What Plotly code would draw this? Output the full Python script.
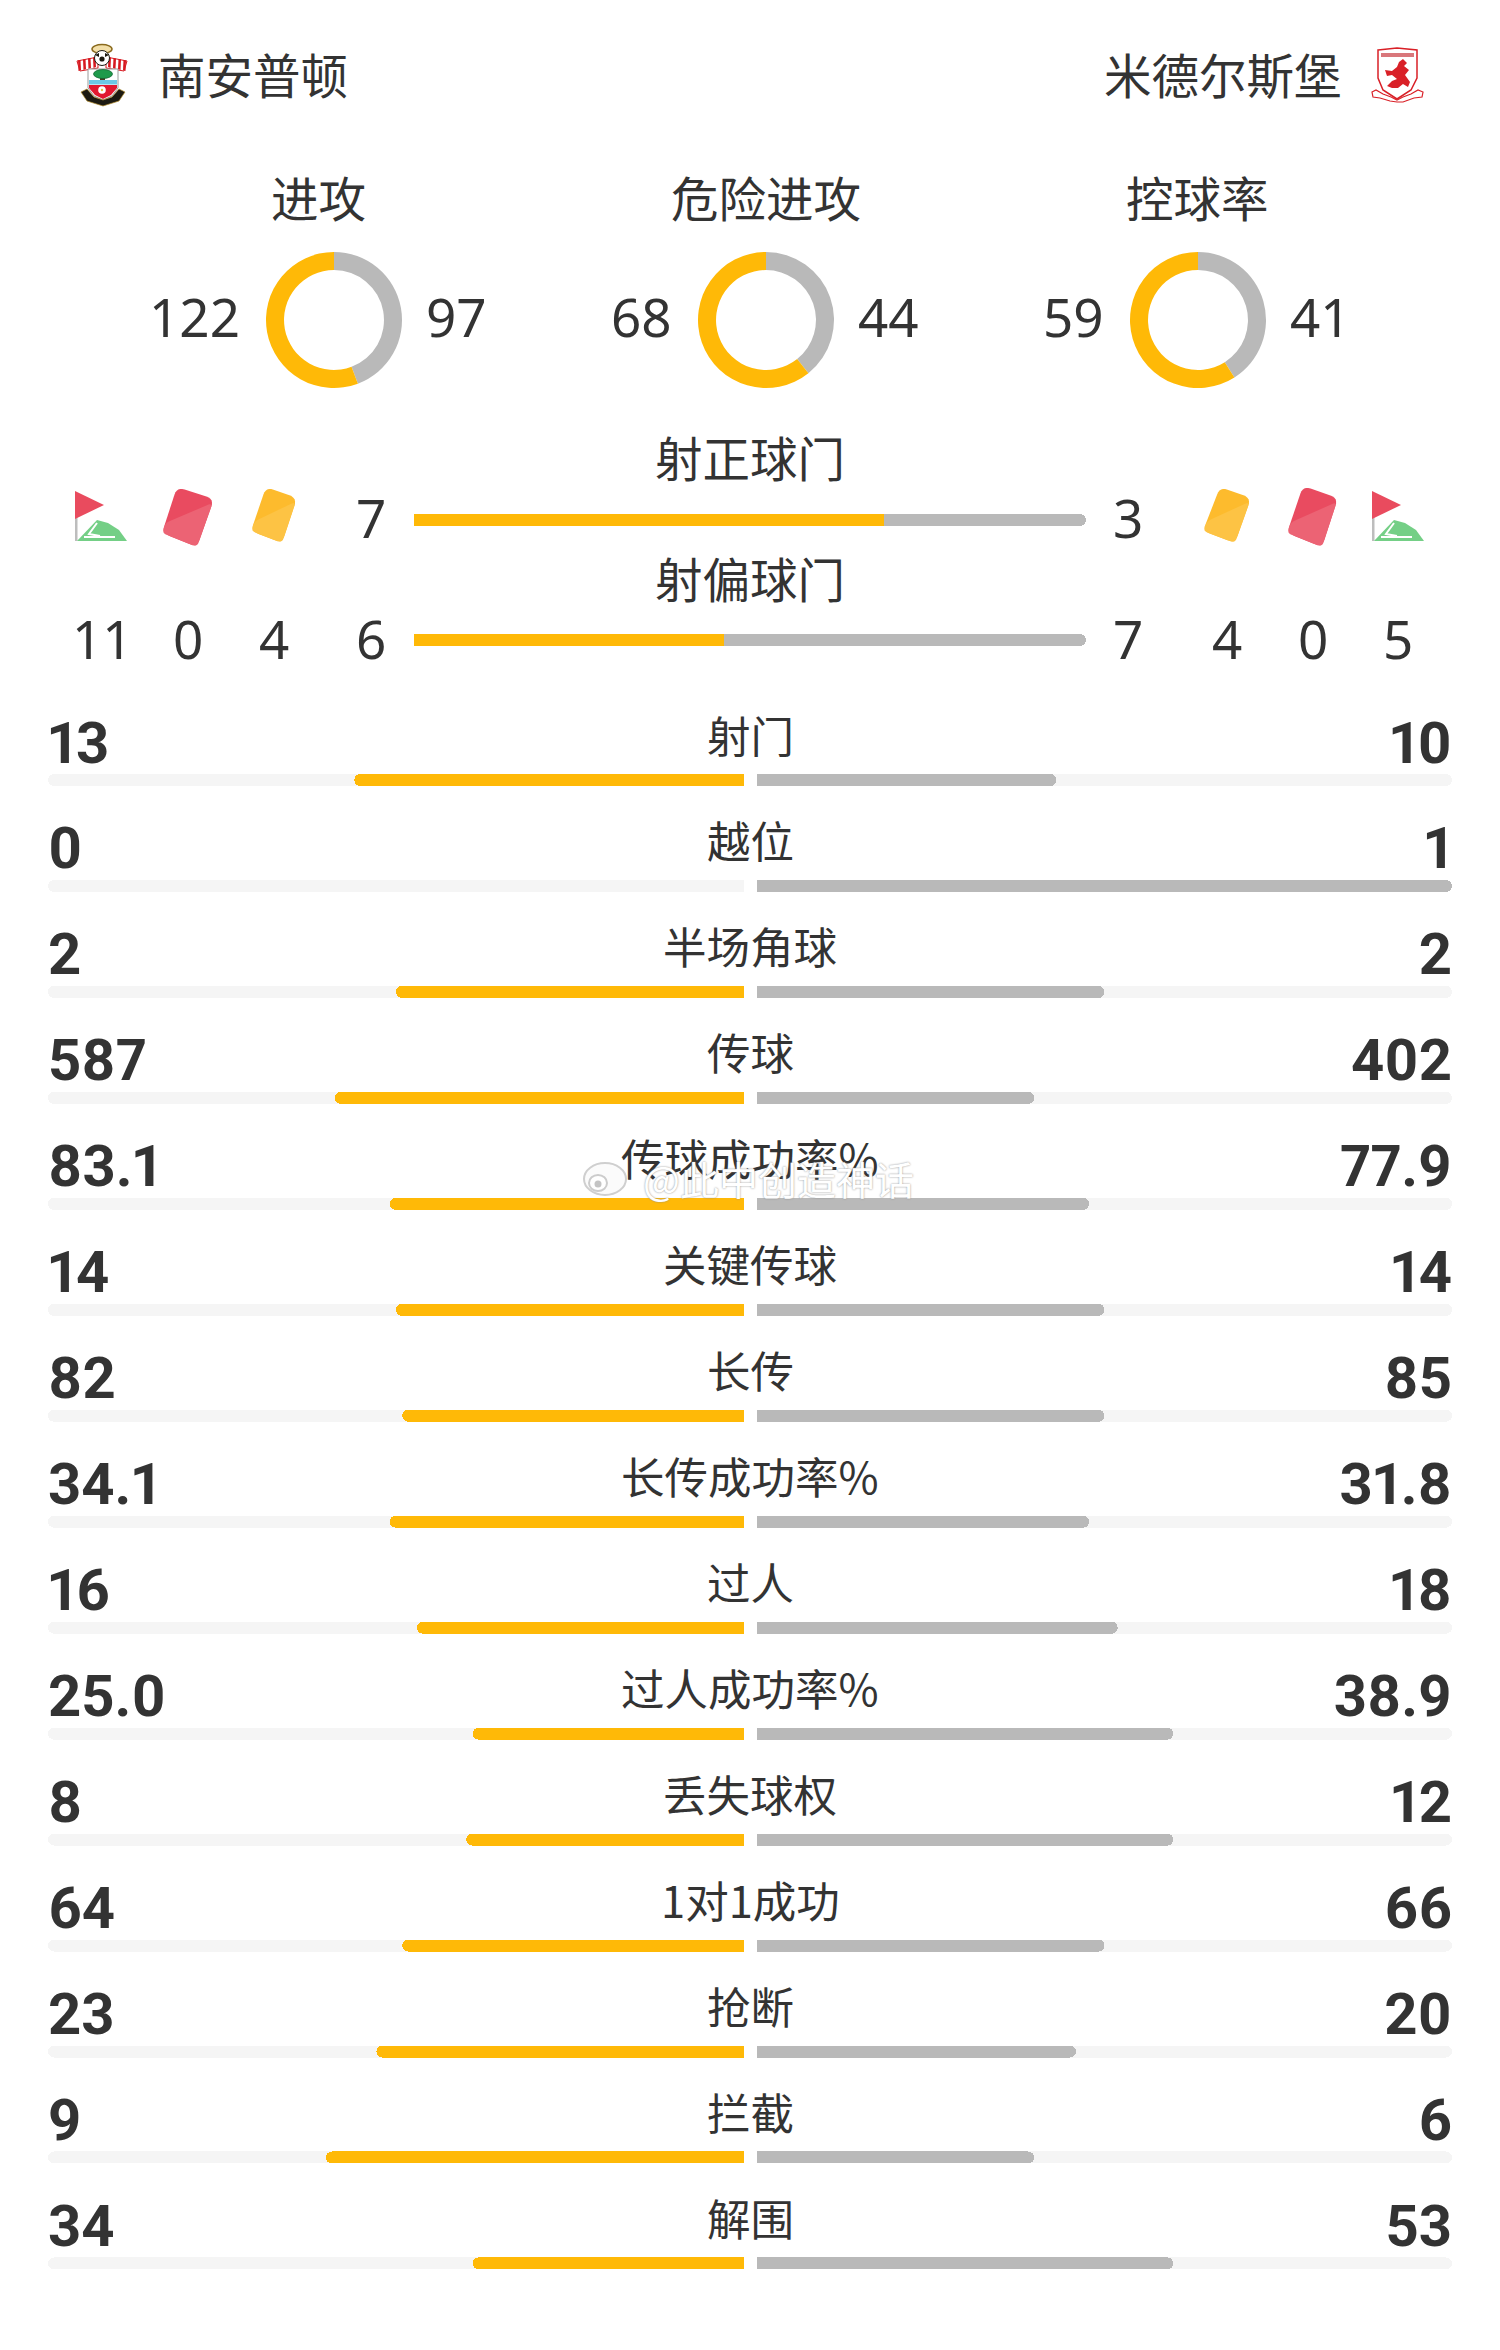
import math
import plotly.graph_objects as go

W, H = 1500, 2350
GOLD, GRAY, TRACK, INK = "#FFB907", "#B9B9B9", "#F5F5F5", "#333333"
CJK = "Noto Sans CJK SC"

home_team = "南安普顿"
away_team = "米德尔斯堡"
donut_names = ["进攻", "危险进攻", "控球率"]
donut_home = [122, 68, 59]
donut_away = [97, 44, 41]
shot_names = ["射正球门", "射偏球门"]
shot_home = [7, 6]
shot_away = [3, 7]
home_corners, home_reds, home_yellows = "11", "0", "4"
away_corners, away_reds, away_yellows = "5", "0", "4"
stat_names = ["射门", "越位", "半场角球", "传球", "传球成功率%", "关键传球", "长传", "长传成功率%",
              "过人", "过人成功率%", "丢失球权", "1对1成功", "抢断", "拦截", "解围"]
stat_home = ["13", "0", "2", "587", "83.1", "14", "82", "34.1", "16", "25.0", "8", "64", "23", "9", "34"]
stat_away = ["10", "1", "2", "402", "77.9", "14", "85", "31.8", "18", "38.9", "12", "66", "20", "6", "53"]
# bar lengths as drawn in the picture (share of each half)
home_share = [.56, 0, .5, .588, .509, .5, .491, .509, .47, .39, .399, .491, .528, .601, .39]
away_share = [.431, 1, .5, .399, .478, .5, .5, .478, .519, .599, .599, .5, .459, .399, .599]
watermark = "@此中创造神话"

shot_h_frac = [a / (a + b) for a, b in zip(shot_home, shot_away)]
shot_a_frac = [b / (a + b) for a, b in zip(shot_home, shot_away)]

px = lambda x: x / W
py = lambda y: 1 - y / H

fig = go.Figure()

# donuts: grey runs clockwise from the top, gold closes the ring
donut_cx = [334, 766, 1198]
R = 68
for i, cx in enumerate(donut_cx):
    fig.add_trace(go.Pie(values=[donut_away[i], donut_home[i]], sort=False, direction="clockwise",
                         rotation=0, hole=0.735, textinfo="none", hoverinfo="skip", showlegend=False,
                         marker=dict(colors=[GRAY, GOLD], line=dict(width=0)),
                         domain=dict(x=[px(cx - R), px(cx + R)], y=[py(320 + R), py(320 - R)])))

bar_common = dict(orientation="h", hoverinfo="skip", showlegend=False, marker_line_width=0)
# shot bars (stacked)
fig.add_trace(go.Bar(y=shot_names, x=shot_h_frac, xaxis="x", yaxis="y", width=0.1,
                     marker=dict(color=GOLD, cornerradius=6), **bar_common))
fig.add_trace(go.Bar(y=shot_names, x=shot_a_frac, xaxis="x", yaxis="y", width=0.1,
                     marker=dict(color=GRAY, cornerradius=6), **bar_common))

# stat bars
row0, step = 780.0, 105.96
bw = 12 / step
for xa, vals, col in [("x2", [1] * len(stat_names), TRACK), ("x3", home_share, GOLD),
                      ("x4", [1] * len(stat_names), TRACK), ("x5", away_share, GRAY)]:
    fig.add_trace(go.Bar(y=stat_names, x=vals, xaxis=xa, yaxis="y2", width=bw,
                         marker=dict(color=col, cornerradius=6), **bar_common))

# bold numbers, on axes offset above the bars
NUM_FONT = dict(family="Roboto", size=58, color=INK, weight=700)
fig.add_trace(go.Scatter(y=stat_names, x=[0] * len(stat_names), text=stat_home, mode="text", xaxis="x6", yaxis="y3",
                         textposition="middle right", textfont=NUM_FONT, hoverinfo="skip", showlegend=False,
                         cliponaxis=False))
fig.add_trace(go.Scatter(y=stat_names, x=[1] * len(stat_names), text=stat_away, mode="text", xaxis="x7", yaxis="y3",
                         textposition="middle left", textfont=NUM_FONT, hoverinfo="skip", showlegend=False,
                         cliponaxis=False))

hidden = dict(visible=False, showgrid=False, zeroline=False, fixedrange=True)
cats = dict(type="category", categoryorder="array", categoryarray=stat_names, range=[14.5, -0.5])
NUM_UP = 32
fig.update_layout(
    width=W, height=H, margin=dict(l=0, r=0, t=0, b=0, pad=0), autosize=False,
    paper_bgcolor="white", plot_bgcolor="rgba(0,0,0,0)", barmode="stack", showlegend=False,
    xaxis=dict(domain=[px(414), px(1086)], range=[0, 1], **hidden),
    yaxis=dict(domain=[py(700), py(460)], range=[1.5, -0.5], type="category",
               categoryorder="array", categoryarray=shot_names, **hidden),
    xaxis2=dict(domain=[px(48), px(744)], range=[1, 0], anchor="y2", **hidden),
    xaxis3=dict(domain=[px(48), px(744)], range=[1, 0], anchor="y2", overlaying="x2", **hidden),
    xaxis4=dict(domain=[px(757), px(1452)], range=[0, 1], anchor="y2", **hidden),
    xaxis5=dict(domain=[px(757), px(1452)], range=[0, 1], anchor="y2", overlaying="x4", **hidden),
    xaxis6=dict(domain=[px(48), px(744)], range=[0, 1], anchor="y3", **hidden),
    xaxis7=dict(domain=[px(757), px(1452)], range=[0, 1], anchor="y3", **hidden),
    yaxis2=dict(domain=[py(row0 + step * 14.5), py(row0 - step / 2)], anchor="x2", **cats, **hidden),
    yaxis3=dict(domain=[py(row0 - NUM_UP + step * 14.5), py(row0 - NUM_UP - step / 2)], anchor="x6", **cats, **hidden),
)

def note(text, x, y, size, anchor="center", family=CJK, weight=None, color=INK, **kw):
    font = dict(family=family, size=size, color=color)
    if weight:
        font["weight"] = weight
    fig.add_annotation(text=text, x=px(x), y=py(y), xref="paper", yref="paper", showarrow=False,
                       xanchor=anchor, yanchor="middle", font=font, borderpad=0, **kw)

DIGIT = "Noto Sans"
note(home_team, 157, 73.5, 47.5, "left")
note(away_team, 1343, 73.5, 47.5, "right")
for name, cx, tx in zip(donut_names, donut_cx, [318, 766, 1197]):
    note(name, tx, 196, 47.5)
for v, x in zip(donut_home, [241, 673, 1105]):
    note(str(v), x, 317, 53, "right", DIGIT)
for v, x in zip(donut_away, [425, 857, 1289]):
    note(str(v), x, 317, 53, "left", DIGIT)
for name, y in zip(shot_names, [457, 577]):
    note(name, 750, y, 47.5)
for a, b, y in zip(shot_home, shot_away, [517.5, 638]):
    note(str(a), 371, y, 53, "center", DIGIT)
    note(str(b), 1128, y, 53, "center", DIGIT)
for t, x in zip([home_corners, home_reds, home_yellows], [102, 188, 274]):
    note(t, x, 638, 53, "center", DIGIT)
for t, x in zip([away_yellows, away_reds, away_corners], [1227, 1313, 1398]):
    note(t, x, 638, 53, "center", DIGIT)

for name in stat_names:
    fig.add_annotation(text=name, x=0.5, y=name, xref="paper", yref="y2", showarrow=False, xanchor="center",
                       yanchor="middle", yshift=46, font=dict(family=CJK, size=43.5, color=INK))

# decorative icons
def poly(pts, fill, line=None, lw=0, close=True):
    d = "M" + " L".join(f"{px(x):.6f},{py(y):.6f}" for x, y in pts) + (" Z" if close else "")
    fig.add_shape(type="path", path=d, xref="paper", yref="paper", fillcolor=fill if close else "rgba(0,0,0,0)",
                  line=dict(color=line or "rgba(0,0,0,0)", width=lw), layer="above")

def ell(cx, cy, rx, ry, fill, line=None, lw=0):
    fig.add_shape(type="circle", x0=px(cx - rx), x1=px(cx + rx), y0=py(cy + ry), y1=py(cy - ry), xref="paper",
                  yref="paper", fillcolor=fill, line=dict(color=line or "rgba(0,0,0,0)", width=lw), layer="above")

def rounded(pts, r):
    out = []
    n = len(pts)
    for i in range(n):
        p, a, b = pts[i], pts[i - 1], pts[(i + 1) % n]
        la, lb = math.dist(p, a), math.dist(p, b)
        s = (p[0] + (a[0] - p[0]) * r / la, p[1] + (a[1] - p[1]) * r / la)
        e = (p[0] + (b[0] - p[0]) * r / lb, p[1] + (b[1] - p[1]) * r / lb)
        for k in range(7):
            t = k / 6
            out.append(((1 - t) ** 2 * s[0] + 2 * t * (1 - t) * p[0] + t ** 2 * e[0],
                        (1 - t) ** 2 * s[1] + 2 * t * (1 - t) * p[1] + t ** 2 * e[1]))
    return out

def card(c, dark, light):
    tl, tr, br, bl = c
    poly(rounded(c, 8), dark)
    f = 0.08
    a = (tr[0] + (br[0] - tr[0]) * f, tr[1] + (br[1] - tr[1]) * f)
    b = (tl[0] + (bl[0] - tl[0]) * 0.78, tl[1] + (bl[1] - tl[1]) * 0.78)
    poly(rounded([a, (br[0], br[1]), (bl[0], bl[1]), b], 5), light)

def flag(dx):
    poly([(75 + dx, 495), (77.5 + dx, 495), (77.5 + dx, 541), (75 + dx, 541)], "#BDBDBD")
    poly([(75 + dx, 491), (104 + dx, 505), (75 + dx, 519)], "#E94B5E")
    arc = [(77 + dx, 541), (97 + dx, 520), (108 + dx, 523), (119 + dx, 530), (127 + dx, 541)]
    poly(arc, "#74CF86")
    poly([(84 + dx, 537), (115 + dx, 537)], "", "white", 2, False)
    poly([(97 + dx, 523), (89 + dx, 534), (100 + dx, 536)], "", "white", 2, False)

flag(0)
flag(1297)
card([(177, 487), (214, 499), (197, 547), (162, 533)], "#E94B60", "#EC6374")
card([(266, 487), (297, 498), (282, 543), (251, 531)], "#FDBB2D", "#FDC344")
card([(1220, 487), (1251, 498), (1235, 543), (1203, 531)], "#FDBB2D", "#FDC344")
card([(1303, 486), (1338, 498), (1322, 547), (1287, 533)], "#E94B60", "#EC6374")

# Southampton crest
RED, BLK = "#D71920", "#1C1A12"
ell(102, 49, 10, 4.5, "#F3DFA8", "#8A6A1E", 1.5)
for x0, sgn in [(77, 1), (127, -1)]:
    poly([(x0, 61), (x0 + sgn * 21, 57), (x0 + sgn * 21, 68), (x0 + sgn * 3, 71)], "#FFFFFF", RED, 1)
    for k in range(4):
        a = x0 + sgn * (1 + k * 5)
        poly([(a, 60.5 - k), (a + sgn * 2.5, 60 - k), (a + sgn * 3, 70 - k), (a + sgn * 0.5, 71 - k)], RED)
ell(102, 58, 7.5, 7.5, "white", BLK, 1)
ell(102, 59, 2.6, 2.6, BLK)
poly([(95, 55), (99, 53), (99, 57)], BLK)
poly([(109, 55), (105, 53), (105, 57)], BLK)
poly([(88, 69), (118, 69), (118, 88), (112, 96), (103, 100), (94, 96), (88, 88)], "white", "#9A9A9A", 1)
poly([(89, 85), (117, 85), (117, 88), (111, 95), (103, 99), (95, 95), (89, 88)], "#E1182F")
poly([(89, 80), (117, 80), (117, 84.5), (89, 84.5)], "#6CC8E6")
poly([(100, 73), (105, 73), (105, 80), (100, 80)], "#4B3A22")
ell(103, 74, 9.5, 4.5, "#1E9A4B", "#0D5F2B", 0.7)
ell(102, 90, 3.8, 3.8, "white")
ell(102, 90, 1.2, 1.2, "#E6C24A")
poly([(81, 92), (87, 89), (94, 97), (103, 100), (112, 97), (119, 89), (125, 92), (119, 101), (103, 106), (87, 101)],
     BLK, "#B38D2E", 0.7)

# Middlesbrough crest
MB = "#D92027"
poly([(1378, 50), (1397, 48), (1417, 50), (1417, 78), (1411, 90), (1397, 99), (1383, 90), (1378, 78)], "white", MB, 1.5)
poly([(1381, 53), (1414, 53), (1414, 57), (1381, 57)], "#D9777B")
poly([(1403, 59), (1407, 63), (1404, 66), (1409, 70), (1405, 75), (1410, 82), (1408, 87), (1403, 84), (1398, 88),
      (1392, 88), (1387, 86), (1392, 81), (1397, 79), (1392, 75), (1387, 76), (1385, 70), (1392, 71), (1397, 67),
      (1399, 62)], MB)
poly([(1372, 92), (1376, 90), (1383, 94), (1391, 97), (1397, 100), (1403, 97), (1411, 94), (1418, 90), (1423, 92),
      (1422, 97), (1414, 98), (1403, 102), (1397, 102), (1390, 101), (1380, 98), (1373, 97)], "white", MB, 1.2)

# watermark
ell(605, 1179, 21, 16, "#FBFBFB", "#CFCFCF", 2)
ell(598, 1183, 9, 8, "white", "#CCCCCC", 2)
ell(598, 1184, 3.5, 3.5, "#C4C4C4")
note(watermark, 778, 1178, 39, color="white")
fig.layout.annotations[-1].font.shadow = "0 0 2px #888"

post = """
document.body.style.margin='0';
var st=document.createElement('style');
st.textContent='.textpoint text{font-feature-settings:"pnum" 1;font-variant-numeric:proportional-nums;}';
document.head.appendChild(st);
"""
fig.write_html("out.html", post_script=post, config={"displayModeBar": False, "responsive": False})
